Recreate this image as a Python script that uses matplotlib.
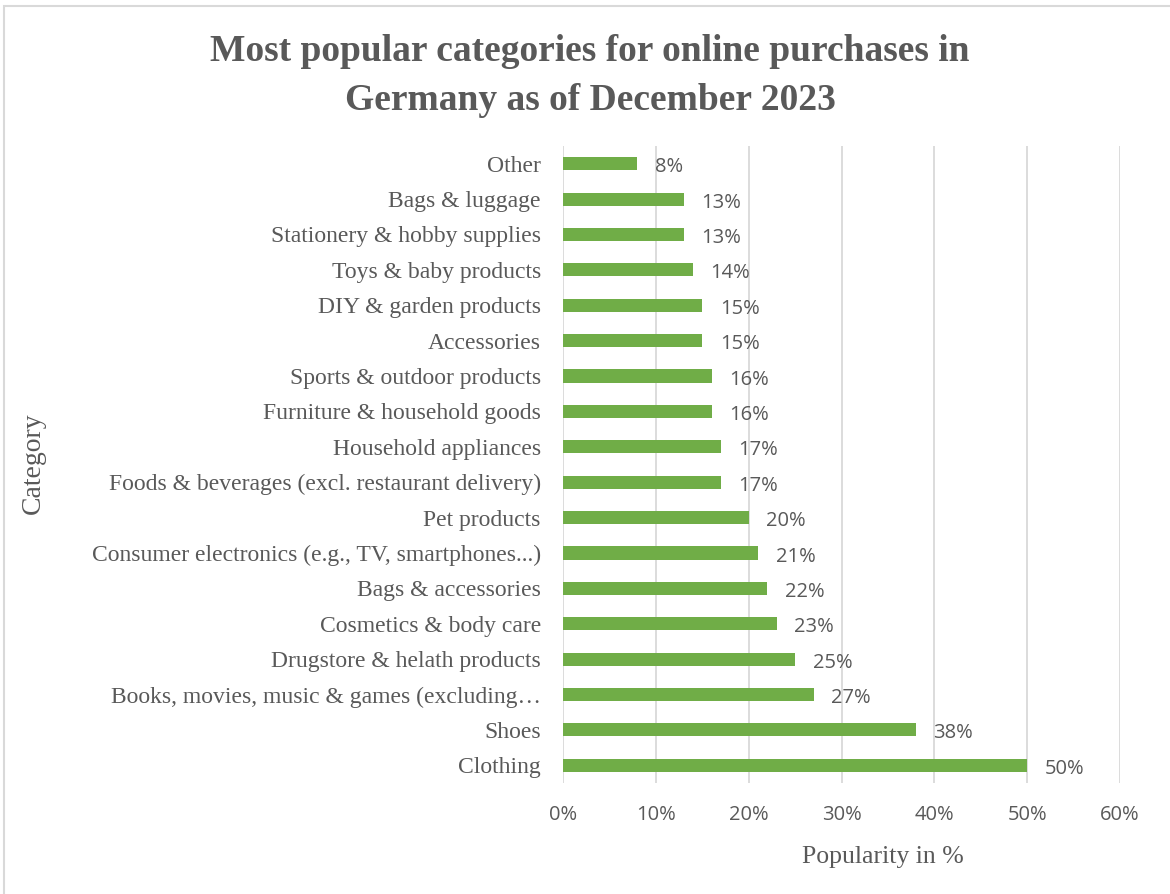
import matplotlib.pyplot as plt
from matplotlib.patches import Rectangle

categories = [
    "Clothing",
    "Shoes",
    "Books, movies, music & games (excluding\u2026",
    "Drugstore & helath products",
    "Cosmetics & body care",
    "Bags & accessories",
    "Consumer electronics (e.g., TV, smartphones...)",
    "Pet products",
    "Foods & beverages (excl. restaurant delivery)",
    "Household appliances",
    "Furniture & household goods",
    "Sports & outdoor products",
    "Accessories",
    "DIY & garden products",
    "Toys & baby products",
    "Stationery & hobby supplies",
    "Bags & luggage",
    "Other",
]
values = [50, 38, 27, 25, 23, 22, 21, 20, 17, 17, 16, 16, 15, 15, 14, 13, 13, 8]
xticks = [0, 10, 20, 30, 40, 50, 60]

TEXT = "#595959"
GREEN = "#70AD47"
GRID = "#D9D9D9"
SERIF = "Liberation Serif"
SANS = "Open Sans"

fig = plt.figure(figsize=(11.7, 8.94), dpi=100)
fig.patches.append(Rectangle((4 / 1170, -0.1), 1.2, 1 - 6 / 894 + 0.1,
                             transform=fig.transFigure, fill=False,
                             edgecolor="#D9D9D9", linewidth=1.5))

ax = fig.add_axes([563 / 1170, 1 - 783 / 894, 557 / 1170, 637 / 894])
y = range(len(categories))
ax.barh(y, values, height=0.37, color=GREEN, zorder=3)
for yi, v in zip(y, values):
    ax.text(v + 1.9, yi - 0.1, f"{v}%", va="center", ha="left",
            fontsize=14.5, color=TEXT, family=SANS)

ax.set_xlim(0, 60)
ax.set_ylim(-0.5, len(categories) - 0.5)
ax.set_xticks(xticks)
ax.set_xticklabels([f"{t}%" for t in xticks], family=SANS, fontsize=14.5, color=TEXT)
ax.set_yticks(list(y))
ax.set_yticklabels(categories, family=SERIF, fontsize=17, color=TEXT)
ax.tick_params(axis="both", length=0)
ax.tick_params(axis="x", pad=16)
ax.tick_params(axis="y", pad=16)
ax.grid(axis="x", color=GRID, linewidth=1.3, zorder=0)
for s in ax.spines.values():
    s.set_visible(False)

fig.text(883 / 1170, 1 - 857 / 894, "Popularity in %", ha="center", va="center",
         family=SERIF, fontsize=18.5, color=TEXT)
fig.text(33 / 1170, 1 - 463 / 894, "Category", ha="center", va="center",
         rotation=90, family=SERIF, fontsize=20, color=TEXT)
fig.text(590 / 1170, 1 - 76 / 894,
         "Most popular categories for online purchases in\nGermany as of December 2023",
         ha="center", va="center", family=SERIF, fontweight="bold",
         fontsize=27, color=TEXT, linespacing=1.5)

fig.savefig("out.png", dpi=100)
